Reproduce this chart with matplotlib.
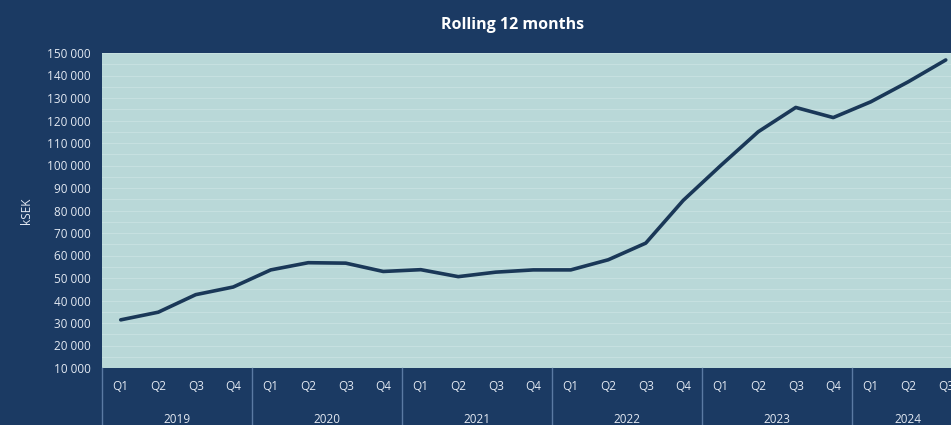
import matplotlib.pyplot as plt
from matplotlib.ticker import FuncFormatter, MultipleLocator

# Rolling 12 months, kSEK, per quarter
years = ['2019', '2020', '2021', '2022', '2023', '2024']
quarters = ['Q1', 'Q2', 'Q3', 'Q4']
quarters_per_year = [4, 4, 4, 4, 4, 3]
values = [31400, 34800, 42600, 46000, 53600, 56800, 56600, 52900,
          53700, 50600, 52600, 53600, 53600, 58100, 65500, 84500,
          100000, 115000, 125800, 121300, 128300, 137200, 146900]

navy = '#1b3a63'
plot_bg = '#b9d8d8'
line_col = '#1a3858'
txt = '#e3e9f2'

plt.rcParams['font.family'] = ['Open Sans', 'DejaVu Sans']

fig = plt.figure(figsize=(9.51, 4.25), dpi=100, facecolor=navy)
ax = fig.add_axes([102 / 951, 57 / 425, 862.5 / 951, 315 / 425])
ax.set_facecolor(plot_bg)

x = list(range(len(values)))
ax.plot(x, values, color=line_col, lw=2.6, solid_joinstyle='round',
        solid_capstyle='round', zorder=3)

ax.set_xlim(-0.5, len(values) - 0.5)
ax.set_ylim(10000, 150000)
ax.yaxis.set_major_locator(MultipleLocator(10000))
ax.yaxis.set_minor_locator(MultipleLocator(5000))
ax.yaxis.set_major_formatter(FuncFormatter(lambda v, p: f'{int(v):,}'.replace(',', ' ')))
ax.grid(axis='y', which='both', color='#c6e0e0', lw=0.8, zorder=1)
ax.tick_params(axis='y', which='both', length=0, colors=txt, labelsize=8.5, pad=8)

# quarter tick labels
qlabels = []
for n in quarters_per_year:
    qlabels += quarters[:n]
ax.set_xticks(x)
ax.set_xticklabels(qlabels)
ax.tick_params(axis='x', length=0, colors=txt, labelsize=8.5, pad=9)

for s in ax.spines.values():
    s.set_visible(False)

# year group labels and separators
tr = ax.get_xaxis_transform()
start = -0.5
for yr, n in zip(years, quarters_per_year):
    ax.plot([start, start], [0, -0.2], transform=tr, color='#5b7aa3',
            lw=1, clip_on=False)
    ax.text(start + n / 2, -0.165, yr, transform=tr, ha='center', va='center',
            color=txt, fontsize=8.5)
    start += n

ax.set_ylabel('kSEK', color=txt, fontsize=8.5, labelpad=10)
fig.text(513 / 951, 1 - 25 / 425, 'Rolling 12 months', ha='center', va='center',
         color='white', fontsize=11.5, fontweight='bold')

fig.savefig('out.png', dpi=100, facecolor=navy)
